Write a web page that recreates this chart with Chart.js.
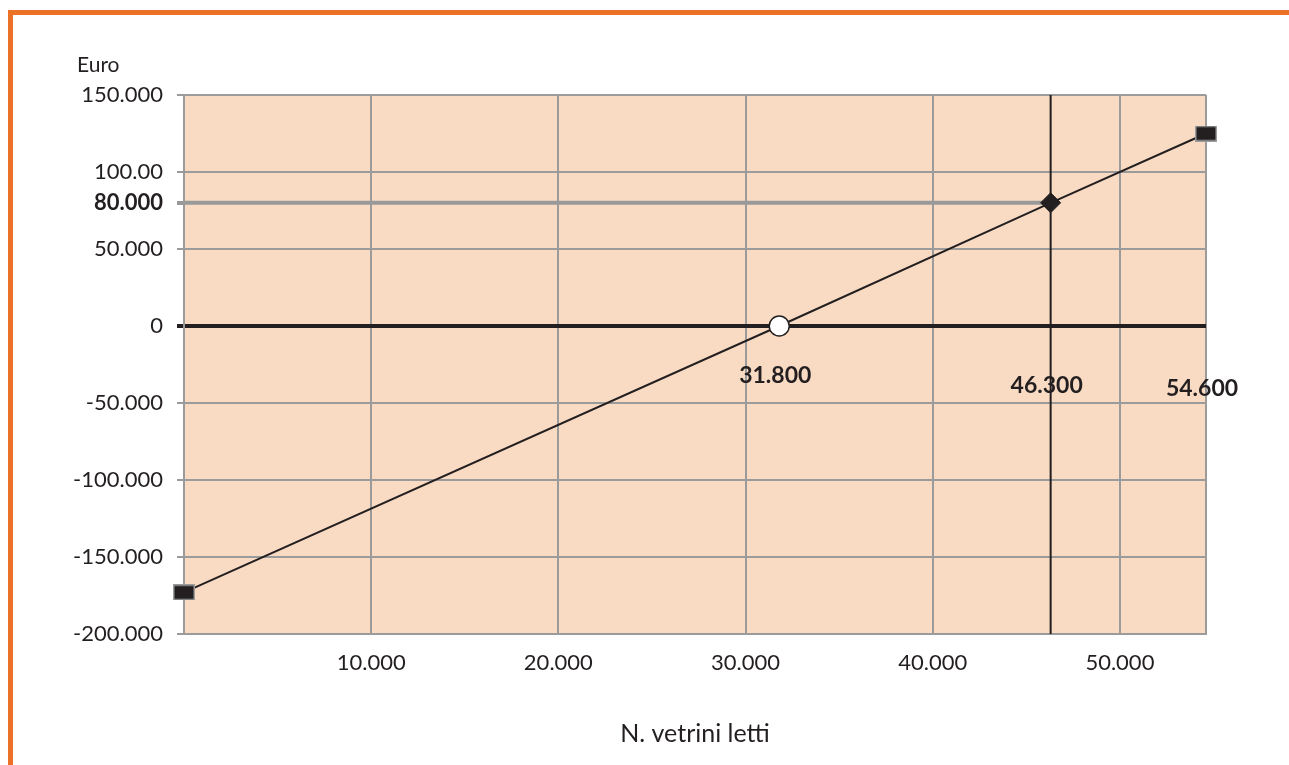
<!DOCTYPE html>
<html lang="it">
<head>
<meta charset="UTF-8">
<title>Punto di pareggio</title>
<style>
  body { margin: 0; background: #fff; }
  #frame {
    position: absolute; left: 8px; top: 10px; width: 1281px; height: 755px;
    border-top: 5px solid #EA7125; border-left: 5px solid #EA7125;
  }
  #wrap { position: absolute; left: 0; top: 0; width: 1289px; height: 765px; }
</style>
<script src="https://cdn.jsdelivr.net/npm/chart.js"></script>
</head>
<body>
<div id="frame"></div>
<div id="wrap"><canvas id="bep"></canvas></div>
<script>
// dati
const vetrini = [0, 31800, 46300, 54600];
const risultato = [-173000, 0, 80000, 125000];
const etichettePunti = ['', '31.800', '46.300', '54.600'];
const utileObiettivo = 80000;
const vetriniObiettivo = 46300;

const xTicks = [0, 10000, 20000, 30000, 40000, 50000, 54600];
const xLabels = ['', '10.000', '20.000', '30.000', '40.000', '50.000', ''];
const yTicks = [-200000, -150000, -100000, -50000, 0, 50000, 80000, 100000, 150000];
const yLabels = ['-200.000', '-150.000', '-100.000', '-50.000', '0', '50.000', '80.000', '100.00', '150.000'];

const INK = '#231F20';
const GRID = '#9b9b9b';
const FONT = 'Lato';

// black square marker with grey edge for the end points
function squareMarker() {
    const c = document.createElement('canvas');
    c.width = 22; c.height = 16;
    const g = c.getContext('2d');
    g.fillStyle = GRID;
    g.fillRect(0, 0, 22, 16);
    g.fillStyle = INK;
    g.fillRect(1.5, 1.5, 19, 13);
    return c;
}
const sq = squareMarker();

const bgPlugin = {
    id: 'bg',
    beforeDraw(chart) {
        const a = chart.chartArea, ctx = chart.ctx;
        ctx.save();
        ctx.fillStyle = '#F9DBC3';
        ctx.fillRect(a.left, a.top, a.right - a.left, a.bottom - a.top);
        ctx.restore();
    }
};

const labelsPlugin = {
    id: 'labels',
    afterDatasetsDraw(chart) {
        const ctx = chart.ctx, xs = chart.scales.x, ys = chart.scales.y;
        const y0 = ys.getPixelForValue(0);
        const dy = [0, 50, 60, 63];
        ctx.save();
        ctx.fillStyle = INK;
        ctx.textAlign = 'center';
        ctx.textBaseline = 'middle';
        ctx.font = 'bold 23px ' + FONT;
        vetrini.forEach((v, i) => {
            if (!etichettePunti[i]) return;
            ctx.fillText(etichettePunti[i], xs.getPixelForValue(v) - 4, y0 + dy[i]);
        });
        ctx.font = '21px ' + FONT;
        ctx.textAlign = 'left';
        ctx.fillText('Euro', 77, 65);
        ctx.restore();
    }
};

new Chart(document.getElementById('bep'), {
    type: 'line',
    data: {
        datasets: [{
            data: vetrini.map((x, i) => ({ x: x, y: risultato[i] })),
            borderColor: INK,
            borderWidth: 2,
            clip: false,
            pointStyle: [sq, 'circle', 'rectRot', sq],
            pointRadius: 10,
            pointBackgroundColor: [INK, '#ffffff', INK, INK],
            pointBorderColor: INK,
            pointBorderWidth: [0, 1.5, 1, 0]
        }, {
            data: [{ x: vetriniObiettivo, y: 150000 }, { x: vetriniObiettivo, y: -200000 }],
            borderColor: INK,
            borderWidth: 2,
            pointRadius: 0
        }, {
            data: [{ x: 0, y: utileObiettivo }, { x: vetriniObiettivo, y: utileObiettivo }],
            borderColor: '#999999',
            borderWidth: 4,
            pointRadius: 0
        }]
    },
    options: {
        responsive: true,
        maintainAspectRatio: false,
        animation: false,
        layout: { padding: { left: 0, top: 95, right: 83, bottom: 0 } },
        plugins: { legend: { display: false }, tooltip: { enabled: false } },
        scales: {
            x: {
                type: 'linear',
                min: 0,
                max: 54600,
                afterBuildTicks: s => { s.ticks = xTicks.map(v => ({ value: v })); },
                afterFit: s => { s.height = 131; },
                grid: { color: GRID, lineWidth: 2, drawTicks: false },
                border: { color: GRID, width: 2 },
                ticks: {
                    autoSkip: false, maxRotation: 0, padding: 16, color: INK,
                    font: { family: FONT, size: 22 },
                    callback: v => xLabels[xTicks.indexOf(v)]
                },
                title: {
                    display: true, text: 'N. vetrini letti', color: INK,
                    font: { family: FONT, size: 25 },
                    padding: { top: 0, bottom: 16 }
                }
            },
            y: {
                min: -200000,
                max: 150000,
                afterBuildTicks: s => { s.ticks = yTicks.map(v => ({ value: v })); },
                afterFit: s => { s.width = 184; },
                grid: {
                    tickLength: 7,
                    color: c => c.tick.value === 0 ? INK : (c.tick.value === utileObiettivo ? 'rgba(0,0,0,0)' : GRID),
                    lineWidth: c => c.tick.value === 0 ? 4 : 2,
                    tickColor: c => c.tick.value === 0 ? INK : (c.tick.value === utileObiettivo ? '#999999' : GRID),
                    tickWidth: c => (c.tick.value === 0 || c.tick.value === utileObiettivo) ? 4 : 2
                },
                border: { color: GRID, width: 2 },
                ticks: {
                    autoSkip: false, padding: 14, color: INK,
                    font: c => ({ family: FONT, size: 22, weight: c.tick && c.tick.value === utileObiettivo ? 'bold' : 'normal' }),
                    callback: v => yLabels[yTicks.indexOf(v)]
                }
            }
        }
    },
    plugins: [bgPlugin, labelsPlugin]
});
</script>
</body>
</html>
